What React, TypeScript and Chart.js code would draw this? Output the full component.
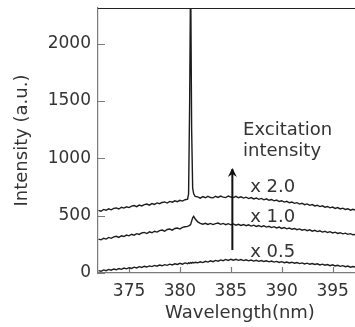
import React, { useEffect, useRef } from "react";
import { Chart, registerables } from "chart.js";

Chart.register(...registerables);

// Wavelength (nm) sampling points shared by all three spectra
const wavelengths = [
  372.0, 372.25, 372.5, 372.75, 373.0, 373.25, 373.5, 373.75, 374.0, 374.25, 374.5, 374.75,
  375.0, 375.25, 375.5, 375.75, 376.0, 376.25, 376.5, 376.75, 377.0, 377.25, 377.5, 377.75,
  378.0, 378.25, 378.5, 378.75, 379.0, 379.25, 379.5, 379.75, 380.0, 380.25, 380.5, 380.75,
  380.85, 380.95, 381.05, 381.15, 381.25, 381.35, 381.5,
  381.75, 382.0, 382.25, 382.5, 382.75, 383.0, 383.25, 383.5, 383.75, 384.0, 384.25, 384.5,
  384.75, 385.0, 385.25, 385.5, 385.75, 386.0, 386.25, 386.5, 386.75, 387.0, 387.25, 387.5,
  387.75, 388.0, 388.25, 388.5, 388.75, 389.0, 389.25, 389.5, 389.75, 390.0, 390.25, 390.5,
  390.75, 391.0, 391.25, 391.5, 391.75, 392.0, 392.25, 392.5, 392.75, 393.0, 393.25, 393.5,
  393.75, 394.0, 394.25, 394.5, 394.75, 395.0, 395.25, 395.5, 395.75, 396.0, 396.25, 396.5,
  396.75, 397.0, 397.25,
];

// Excitation intensity x 2.0
const intensityX20 = [
  546, 538, 554, 547, 559, 551, 563, 567, 558, 573, 566, 577,
  570, 583, 588, 578, 592, 585, 596, 601, 591, 605, 598, 611,
  604, 615, 620, 610, 624, 617, 629, 622, 634, 627, 639, 643,
  690, 1450, 2650, 1250, 740, 690, 668,
  664, 653, 666, 656, 668, 658, 655, 669, 659, 670, 661, 657,
  671, 662, 658, 668, 656, 664, 653, 661, 649, 658, 646, 654,
  642, 650, 638, 647, 634, 641, 629, 636, 623, 630, 618, 625,
  612, 619, 607, 613, 601, 608, 596, 602, 590, 597, 585, 591,
  579, 586, 574, 580, 568, 575, 563, 570, 558, 565, 554, 560,
  548, 555, 548,
];

// Excitation intensity x 1.0
const intensityX10 = [
  296, 289, 303, 296, 310, 302, 315, 320, 310, 325, 318, 331,
  324, 338, 330, 343, 336, 349, 354, 344, 359, 351, 364, 357,
  370, 374, 364, 379, 383, 374, 388, 392, 383, 398, 403, 406,
  410, 415, 424, 452, 482, 494, 470,
  446, 433, 425, 433, 423, 432, 422, 431, 435, 424, 432, 421,
  430, 420, 428, 417, 425, 415, 423, 412, 420, 409, 417, 406,
  414, 403, 411, 400, 407, 396, 404, 393, 400, 389, 396, 385,
  392, 381, 388, 377, 384, 373, 380, 369, 376, 365, 372, 361,
  368, 357, 364, 353, 360, 349, 356, 345, 351, 341, 347, 337,
  343, 333, 337,
];

// Excitation intensity x 0.5
const intensityX05 = [
  21, 15, 27, 20, 31, 24, 35, 28, 39, 32, 43, 36,
  46, 40, 51, 44, 55, 48, 59, 52, 62, 56, 66, 59,
  70, 63, 73, 67, 77, 70, 81, 74, 84, 77, 88, 81,
  88, 84, 91, 86, 92, 87, 94,
  89, 98, 91, 102, 95, 106, 99, 110, 103, 114, 107, 118,
  110, 120, 112, 119, 110, 117, 108, 115, 106, 113, 104, 111,
  102, 109, 100, 106, 97, 104, 95, 101, 92, 99, 90, 96,
  87, 94, 85, 91, 82, 88, 79, 86, 76, 83, 74, 80,
  70, 77, 68, 74, 64, 71, 61, 67, 58, 64, 55, 61,
  51, 57, 50,
];

const xTickValues = [375, 380, 385, 390, 395];
const yTickValues = [0, 500, 1000, 1500, 2000];
const seriesLabels = ["x 2.0", "x 1.0", "x 0.5"];

const FONT = "'DejaVu Sans', sans-serif";
const TEXT = "#333333";
const AXIS = "#7a7a7a";
const LINE = "#1c1c1c";

const framePlugin = {
  id: "frame",
  beforeDatasetsDraw(chart: any) {
    const { ctx, chartArea, scales } = chart;
    const { left, bottom } = chartArea;
    ctx.save();
    ctx.strokeStyle = AXIS;
    ctx.lineWidth = 1.2;
    ctx.beginPath();
    for (const v of yTickValues) {
      const py = Math.round(scales.y.getPixelForValue(v)) + 0.5;
      ctx.moveTo(left, py);
      ctx.lineTo(left + 7, py);
    }
    for (const v of xTickValues) {
      const px = Math.round(scales.x.getPixelForValue(v)) + 0.5;
      ctx.moveTo(px, bottom);
      ctx.lineTo(px, bottom - 6);
    }
    ctx.stroke();
    ctx.restore();
  },
  afterDatasetsDraw(chart: any) {
    const { ctx, chartArea, scales } = chart;
    const { left, right, top, bottom } = chartArea;
    const xs = scales.x;
    const ys = scales.y;
    ctx.save();
    // top frame line
    ctx.strokeStyle = "#222222";
    ctx.lineWidth = 1.2;
    ctx.beginPath();
    ctx.moveTo(left, top + 0.5);
    ctx.lineTo(right, top + 0.5);
    ctx.stroke();

    // arrow
    const ax = xs.getPixelForValue(385.15);
    const ay1 = ys.getPixelForValue(200);
    const ay2 = ys.getPixelForValue(915);
    ctx.strokeStyle = "#111111";
    ctx.lineWidth = 2;
    ctx.beginPath();
    ctx.moveTo(ax, ay1);
    ctx.lineTo(ax, ay2 + 1);
    ctx.stroke();
    ctx.fillStyle = "#111111";
    ctx.beginPath();
    ctx.moveTo(ax, ay2);
    ctx.lineTo(ax - 4.5, ay2 + 9);
    ctx.lineTo(ax, ay2 + 6);
    ctx.lineTo(ax + 4.5, ay2 + 9);
    ctx.closePath();
    ctx.fill();

    // annotation texts
    ctx.fillStyle = TEXT;
    ctx.font = `18px ${FONT}`;
    ctx.textAlign = "left";
    ctx.textBaseline = "middle";
    ctx.fillText("Excitation", xs.getPixelForValue(386.2), ys.getPixelForValue(1242));
    ctx.fillText("intensity", xs.getPixelForValue(386.2), ys.getPixelForValue(1060));
    const labelValues = [744, 483, 176];
    seriesLabels.forEach((t, i) => {
      ctx.fillText(t, xs.getPixelForValue(386.9), ys.getPixelForValue(labelValues[i]));
    });

    // x axis title
    ctx.textAlign = "center";
    ctx.fillText("Wavelength(nm)", xs.getPixelForValue(385.9), bottom + 40);
    ctx.restore();
  },
};

export default function App() {
  const ref = useRef<HTMLCanvasElement>(null);
  useEffect(() => {
    document.body.style.margin = "0";
    const canvas = ref.current;
    if (!canvas) return;
    const series = [intensityX20, intensityX10, intensityX05];
    const chart = new Chart(canvas, {
      type: "line",
      data: {
        datasets: series.map((vals, i) => ({
          label: seriesLabels[i],
          data: wavelengths.map((w, j) => ({ x: w, y: vals[j] })),
          borderColor: LINE,
          borderWidth: 1.4,
          pointRadius: 0,
          tension: 0,
          fill: false,
        })),
      },
      options: {
        animation: false,
        responsive: false,
        layout: { padding: { top: 8, right: 0, left: 0, bottom: 0 } },
        plugins: { legend: { display: false }, tooltip: { enabled: false } },
        scales: {
          x: {
            type: "linear",
            min: 371.95,
            max: 397.2,
            grid: { display: false, drawTicks: false },
            border: { display: true, color: AXIS, width: 1.2 },
            ticks: {
              color: TEXT,
              font: { family: FONT, size: 17 },
              padding: 8,
              maxRotation: 0,
              callback: (v: any) => String(v),
            },
            afterBuildTicks: (scale: any) => {
              scale.ticks = xTickValues.map((v) => ({ value: v }));
            },
            afterFit: (scale: any) => {
              scale.height = 54;
              scale.paddingLeft = 0;
              scale.paddingRight = 0;
            },
          },
          y: {
            type: "linear",
            min: 0,
            max: 2310,
            grid: { display: false, drawTicks: false },
            border: { display: true, color: AXIS, width: 1.2 },
            ticks: {
              color: TEXT,
              font: { family: FONT, size: 17 },
              padding: 7,
              callback: (v: any) => String(v),
            },
            afterBuildTicks: (scale: any) => {
              scale.ticks = yTickValues.map((v) => ({ value: v }));
            },
            afterFit: (scale: any) => {
              scale.width = 98;
              scale.paddingTop = 0;
              scale.paddingBottom = 0;
            },
            title: {
              display: true,
              text: "Intensity (a.u.)",
              color: TEXT,
              font: { family: FONT, size: 18 },
              padding: { top: 12, bottom: 0 },
            },
          },
        },
      },
      plugins: [framePlugin],
    });
    return () => chart.destroy();
  }, []);
  return (
    <div style={{ width: 355, height: 327 }}>
      <canvas ref={ref} width={355} height={327} style={{ display: "block" }} />
    </div>
  );
}
